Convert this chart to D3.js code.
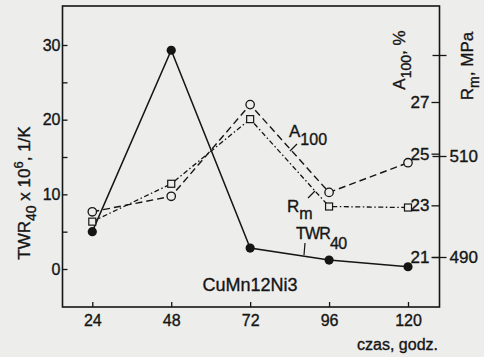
<!DOCTYPE html>
<html>
<head>
<meta charset="utf-8">
<script src="https://cdn.jsdelivr.net/npm/d3@7/dist/d3.min.js"></script>
<style>
  html, body { margin: 0; padding: 0; background: #ededeb; }
  svg { display: block; }
  text { font-family: "Liberation Sans", Arial, sans-serif; fill: #151515; stroke: #151515; stroke-width: 0.35px; }
</style>
</head>
<body>
<svg id="chart" width="484" height="357"></svg>
<script>
// ---- data ----
const hours = [24, 48, 72, 96, 120];
const twr40 = [5.0, 29.3, 2.8, 1.2, 0.3];          // TWR40 x 10^6, 1/K
const a100 = [22.75, 23.35, 26.9, 23.5, 24.65];    // A100, %
const rm = [497, 504.5, 517.3, 500, 499.8];        // Rm, MPa
const leftMajorTicks = [0, 10, 20, 30];
const leftMinorTicks = [5, 15, 25];
const a100Ticks = [21, 23, 25, 27];
const rmTicks = [490, 510, 530];
const rmTickLabels = ["490", "510", ""];

// ---- layout ----
const W = 484, H = 357;
const L = 62.5, R = 439.5, T = 6, B = 307;
const ink = "#151515";
const bg = "#ededeb";
const svg = d3.select("#chart");
svg.append("rect").attr("width", W).attr("height", H).attr("fill", bg);

const x = d3.scaleLinear().domain([24, 120]).range([92.3, 408]);
const yL = d3.scaleLinear().domain([0, 30]).range([269, 45]);
const yA = d3.scaleLinear().domain([21, 27]).range([257, 102]);
const yR = d3.scaleLinear().domain([490, 530]).range([257, 55]);

// frame
svg.append("rect").attr("x", L).attr("y", T).attr("width", R - L).attr("height", B - T)
  .attr("fill", "none").attr("stroke", ink).attr("stroke-width", 1.6);

function styleAxis(g, fs) {
  g.select(".domain").remove();
  g.selectAll(".tick line").attr("stroke", ink).attr("stroke-width", 1.3);
  g.selectAll(".tick text").attr("font-size", fs).attr("fill", ink);
}

// bottom axis
const gx = svg.append("g").attr("transform", `translate(0,${B})`)
  .call(d3.axisBottom(x).tickValues(hours).tickSize(-5).tickPadding(8).tickFormat(d3.format("d")));
styleAxis(gx, 16);

// left axis (major + minor)
const gl = svg.append("g").attr("transform", `translate(${L},0)`)
  .call(d3.axisLeft(yL).tickValues(leftMajorTicks).tickSize(-5).tickPadding(2).tickFormat(d3.format("d")));
styleAxis(gl, 16);
const glm = svg.append("g").attr("transform", `translate(${L},0)`)
  .call(d3.axisLeft(yL).tickValues(leftMinorTicks).tickSize(-5).tickFormat(""));
styleAxis(glm, 16);

// right axes: A100 inside, Rm crossing
const ga = svg.append("g").attr("transform", `translate(${R},0)`)
  .call(d3.axisLeft(yA).tickValues(a100Ticks).tickSize(8).tickPadding(2).tickFormat(d3.format("d")));
styleAxis(ga, 17);
const gr = svg.append("g").attr("transform", `translate(${R},0)`)
  .call(d3.axisRight(yR).tickValues(rmTicks).tickSize(7).tickPadding(3)
    .tickFormat((d, i) => rmTickLabels[i]));
styleAxis(gr, 17);
gr.selectAll(".tick line").attr("x1", -7);

// ---- series ----
const pts = (vals, ys) => hours.map((h, i) => [x(h), ys(vals[i])]);
const line = d3.line();

const pA = pts(a100, yA);
const pR = pts(rm, yR);
const pT = pts(twr40, yL);

svg.append("path").attr("d", line(pR)).attr("fill", "none").attr("stroke", ink)
  .attr("stroke-width", 1.3).attr("stroke-dasharray", "5,2.5,1.5,2.5");
svg.append("path").attr("d", line(pA)).attr("fill", "none").attr("stroke", ink)
  .attr("stroke-width", 1.4).attr("stroke-dasharray", "7,4");
svg.append("path").attr("d", line(pT)).attr("fill", "none").attr("stroke", ink)
  .attr("stroke-width", 1.5);

svg.selectAll(".sq").data(pR).enter().append("rect")
  .attr("x", d => d[0] - 3.5).attr("y", d => d[1] - 3.5).attr("width", 7).attr("height", 7)
  .attr("fill", bg).attr("stroke", ink).attr("stroke-width", 1.2);
svg.selectAll(".oc").data(pA).enter().append("circle")
  .attr("cx", d => d[0]).attr("cy", d => d[1]).attr("r", 4.2)
  .attr("fill", bg).attr("stroke", ink).attr("stroke-width", 1.3);
svg.selectAll(".fc").data(pT).enter().append("circle")
  .attr("cx", d => d[0]).attr("cy", d => d[1]).attr("r", 4.6)
  .attr("fill", ink);

// ---- annotations ----
function subLabel(px, py, main, sub, fs, sfs, dy) {
  const t = svg.append("text").attr("x", px).attr("y", py).attr("font-size", fs).attr("fill", ink);
  t.append("tspan").text(main);
  t.append("tspan").attr("font-size", sfs).attr("dy", dy).text(sub);
  return t;
}
subLabel(289, 137, "A", "100", 17, 16, 8);
svg.append("line").attr("x1", 290).attr("y1", 151).attr("x2", 297).attr("y2", 144)
  .attr("stroke", ink).attr("stroke-width", 1.2);

subLabel(287, 212, "R", "m", 17, 16, 7);
svg.append("line").attr("x1", 308).attr("y1", 198).attr("x2", 315).attr("y2", 191)
  .attr("stroke", ink).attr("stroke-width", 1.2);

const tw = subLabel(296, 239, "TWR", "40", 16, 16, 10);
tw.attr("letter-spacing", -0.8);
svg.append("line").attr("x1", 305).attr("y1", 243).attr("x2", 304).attr("y2", 255)
  .attr("stroke", ink).attr("stroke-width", 1.2);

svg.append("text").attr("x", 250).attr("y", 291).attr("text-anchor", "middle")
  .attr("font-size", 18).attr("fill", ink).text("CuMn12Ni3");

svg.append("text").attr("x", 438).attr("y", 350).attr("text-anchor", "end")
  .attr("font-size", 16).attr("fill", ink).text("czas, godz.");

// left axis title
const lt = svg.append("text").attr("transform", "translate(30,193) rotate(-90)")
  .attr("text-anchor", "middle").attr("font-size", 17).attr("fill", ink);
lt.append("tspan").text("TWR");
lt.append("tspan").attr("font-size", 14).attr("dy", 6).text("40");
lt.append("tspan").attr("dy", -6).text(" x 10");
lt.append("tspan").attr("font-size", 13).attr("dy", -7).text("6");
lt.append("tspan").attr("dy", 7).text(", 1/K");

// right axis titles
const at = svg.append("text").attr("transform", "translate(405,60) rotate(-90)")
  .attr("text-anchor", "middle").attr("font-size", 17).attr("fill", ink);
at.append("tspan").text("A");
at.append("tspan").attr("font-size", 14).attr("dy", 6).text("100");
at.append("tspan").attr("dy", -6).text(", %");

const rt = svg.append("text").attr("transform", "translate(473,66) rotate(-90)")
  .attr("text-anchor", "middle").attr("font-size", 17).attr("fill", ink);
rt.append("tspan").text("R");
rt.append("tspan").attr("font-size", 14).attr("dy", 6).text("m");
rt.append("tspan").attr("dy", -6).text(", MPa");
</script>
</body>
</html>
